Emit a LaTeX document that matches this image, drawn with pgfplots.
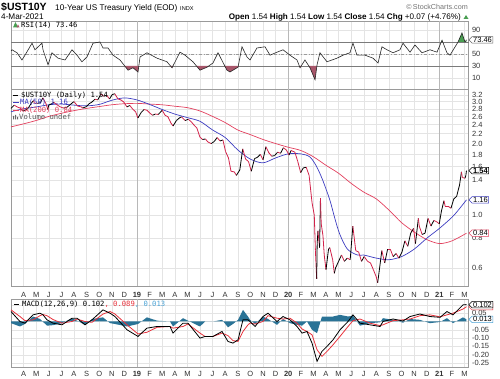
\documentclass[border=0pt]{standalone}
\usepackage{pgfplots}
\pgfplotsset{compat=1.18}
\usepackage{pgfplotstable}
\usetikzlibrary{shapes.symbols}
\usepackage{fontspec}
\setmainfont{Liberation Sans}
\newfontfamily\monofont{DejaVu Sans Mono}

\definecolor{pricered}{HTML}{D2224A}
\definecolor{ma50c}{HTML}{3C3CC0}
\definecolor{ma200c}{HTML}{E2405E}
\definecolor{gridc}{HTML}{E4E4E4}
\definecolor{yeargrid}{HTML}{B8B8B8}
\definecolor{axc}{HTML}{9A9A9A}
\definecolor{histc}{HTML}{2A7396}
\definecolor{sigred}{HTML}{E8323C}
\definecolor{lblue}{HTML}{4AA3D6}
\definecolor{rsired}{HTML}{A8566A}
\definecolor{rsigreen}{HTML}{4A9E52}
\definecolor{txtgray}{HTML}{333333}

\newcommand\tickfont{\fontsize{7.5}{8}\selectfont}
\newcommand\legfont{\monofont\fontsize{7.2}{8}\selectfont}

\pgfplotstableread{
m p c
-10.00 2.81 1
-9.74 2.90 0
-9.51 2.85 0
-9.28 2.82 0
-9.08 2.74 1
-8.84 2.77 1
-8.61 2.83 1
-8.38 2.96 1
-8.21 3.03 0
-8.15 2.96 0
-7.90 2.95 1
-7.67 2.97 1
-7.47 3.11 0
-7.21 2.93 0
-7.08 2.78 1
-7.00 2.90 1
-6.77 2.94 1
-6.61 2.98 0
-6.31 2.90 0
-6.08 2.85 0
-5.84 2.82 1
-5.61 2.83 1
-5.38 2.89 1
-5.15 2.96 1
-5.00 3.00 0
-4.70 2.87 0
-4.47 2.86 0
-4.31 2.82 1
-4.01 2.86 1
-3.80 2.94 1
-3.57 2.99 1
-3.34 3.07 0
-3.11 3.05 1
-2.87 3.23 0
-2.64 3.16 1
-2.41 3.19 0
-2.18 3.08 1
-1.97 3.21 1
-1.77 3.24 0
-1.51 3.08 0
-1.28 3.05 0
-1.05 2.99 0
-0.80 2.85 1
-0.57 2.89 0
-0.34 2.79 0
-0.11 2.72 0
0.07 2.56 1
0.33 2.70 1
0.56 2.78 0
0.79 2.76 0
1.00 2.69 0
1.23 2.63 1
1.46 2.66 0
1.69 2.65 1
2.00 2.76 0
2.23 2.63 0
2.46 2.59 0
2.69 2.44 0
2.86 2.37 1
3.13 2.50 1
3.36 2.56 1
3.53 2.59 0
3.82 2.50 1
4.07 2.53 0
4.30 2.47 0
4.53 2.39 0
4.76 2.32 0
4.99 2.13 0
5.20 2.08 1
5.43 2.09 0
5.63 2.03 0
5.89 2.00 1
6.13 2.04 1
6.36 2.12 0
6.59 2.05 1
6.82 2.07 0
7.03 1.85 0
7.26 1.74 0
7.46 1.53 0
7.72 1.52 0
7.89 1.47 1
8.16 1.55 1
8.39 1.90 0
8.62 1.72 0
8.85 1.68 0
9.07 1.53 1
9.33 1.73 1
9.56 1.75 1
9.79 1.80 0
10.00 1.71 1
10.23 1.94 0
10.46 1.83 0
10.69 1.77 1
10.92 1.78 1
11.16 1.84 0
11.39 1.82 1
11.62 1.92 0
11.85 1.88 0
12.07 1.79 1
12.23 1.87 0
12.53 1.84 0
12.76 1.68 0
12.99 1.51 1
13.20 1.58 1
13.43 1.59 0
13.66 1.47 0
13.89 1.13 0
14.07 1.00 0
14.16 0.71 0
14.26 0.54 1
14.30 0.76 1
14.36 0.86 0
14.49 0.73 1
14.56 1.18 0
14.62 0.92 0
14.76 0.82 0
14.86 0.68 0
15.00 0.59 1
15.20 0.72 1
15.30 0.73 0
15.53 0.65 0
15.66 0.57 1
15.76 0.60 1
16.00 0.64 1
16.23 0.68 0
16.46 0.64 1
16.69 0.66 0
16.92 0.65 1
17.13 0.90 0
17.36 0.71 0
17.59 0.70 0
17.82 0.64 1
18.03 0.67 0
18.30 0.64 0
18.53 0.63 0
18.76 0.59 0
18.99 0.55 0
19.10 0.52 1
19.20 0.57 1
19.43 0.71 0
19.66 0.63 1
19.89 0.72 0
20.10 0.72 0
20.33 0.67 1
20.56 0.69 0
20.79 0.66 1
21.03 0.70 1
21.26 0.78 0
21.49 0.74 1
21.72 0.84 1
21.95 0.88 0
22.10 0.76 1
22.33 0.97 0
22.40 0.90 0
22.63 0.83 1
22.86 0.84 1
23.10 0.97 0
23.33 0.90 1
23.56 0.95 0
23.76 0.94 0
23.99 0.92 1
24.16 1.04 1
24.36 1.15 0
24.46 1.09 0
24.69 1.09 0
24.92 1.07 1
25.14 1.17 1
25.37 1.20 1
25.60 1.34 1
25.75 1.52 0
25.82 1.44 0
26.03 1.43 1
26.10 1.47 1
26.15 1.54 1
}\pricetab

\pgfplotstableread{
m v
-10 2.72
-9 2.80
-8 2.85
-7 2.91
-6 2.93
-5 2.90
-4 2.88
-3 2.92
-2 3.04
-1 3.11
0 3.05
1 2.92
2 2.78
3 2.66
4 2.57
5 2.48
6 2.28
7 2.12
8 1.88
9 1.72
10 1.66
11 1.74
12 1.81
13 1.81
13.7 1.76
14.2 1.62
14.7 1.42
15.3 1.16
15.7 0.97
16.1 0.83
16.7 0.72
17.5 0.68
18 0.68
19 0.66
20 0.65
21 0.67
22 0.72
23 0.80
24 0.88
25 0.98
25.5 1.05
26.15 1.16
}\mafifty

\pgfplotstableread{
m v
-10 2.35
-9 2.42
-8 2.50
-7 2.60
-6 2.68
-5 2.75
-4 2.81
-3 2.86
-2 2.91
-1 2.94
0 2.95
1 2.93
2 2.91
3 2.87
4 2.83
5 2.74
6 2.60
7 2.45
8 2.28
9 2.18
10 2.08
11 2.00
12 1.93
13 1.87
14 1.76
15 1.62
16 1.50
17 1.36
18 1.25
19 1.17
20 1.05
21 0.93
22 0.85
23 0.79
24 0.76
25 0.78
26.15 0.84
}\matwohundred

\pgfplotstableread{
m r
-10.00 55
-9.92 57
-9.52 52
-9.13 40
-8.89 48
-8.33 68
-8.10 57
-7.54 68
-7.46 57
-7.06 32
-6.75 52
-6.27 43
-5.71 40
-5.16 57
-4.76 48
-4.37 37
-3.97 45
-3.49 68
-2.94 70
-2.70 60
-2.30 60
-1.90 48
-1.35 40
-0.71 23
-0.32 27
0.08 20
0.24 45
0.79 52
1.59 43
2.38 37
2.78 27
3.41 53
3.81 48
4.44 37
5.00 23
5.56 28
6.03 35
6.43 52
7.14 23
7.38 20
8.02 28
8.33 62
8.73 45
8.97 40
9.52 60
10.16 62
10.56 48
11.11 53
11.59 57
12.14 48
12.70 40
12.94 27
13.33 40
13.73 27
14.13 7
14.29 32
14.52 52
15.08 37
15.87 43
16.35 48
16.90 52
17.14 68
17.46 48
18.10 48
18.73 43
19.13 35
19.44 62
19.84 57
20.32 52
20.87 57
21.11 68
21.67 53
22.06 65
22.62 52
23.25 57
23.81 53
24.21 73
24.60 52
24.84 48
25.48 70
25.79 85
26.03 70
26.15 73.46
}\rsitab

\pgfplotstableread{
m macd sig h
-10.00 0.060 0.070 -0.010
-9.29 0.000 0.030 -0.030
-8.89 -0.010 0.005 -0.015
-8.25 0.040 0.010 0.030
-7.70 0.050 0.035 0.015
-7.46 0.040 0.042 -0.002
-7.14 0.010 0.035 -0.025
-6.67 -0.010 0.012 -0.022
-5.95 -0.020 -0.010 -0.010
-5.16 0.020 0.000 0.020
-4.76 0.020 0.015 0.005
-4.13 -0.020 0.000 -0.020
-3.57 0.010 -0.005 0.015
-2.70 0.070 0.045 0.025
-2.14 0.050 0.060 -0.010
-1.75 0.030 0.045 -0.015
-0.79 -0.050 -0.020 -0.030
0.08 -0.090 -0.075 -0.015
0.79 -0.040 -0.065 0.025
1.59 -0.030 -0.035 0.005
2.62 -0.030 -0.030 0.000
2.86 -0.070 -0.040 -0.030
3.65 -0.010 -0.030 0.020
4.05 -0.010 -0.015 0.005
5.00 -0.100 -0.070 -0.030
5.40 -0.090 -0.090 0.000
6.03 -0.090 -0.090 0.000
6.75 -0.060 -0.070 0.010
7.22 -0.120 -0.085 -0.035
7.62 -0.130 -0.115 -0.015
8.02 -0.110 -0.120 0.010
8.41 0.010 -0.060 0.070
8.81 0.010 -0.020 0.030
8.97 0.000 -0.010 0.010
9.37 -0.030 -0.015 -0.015
10.00 0.030 0.000 0.030
10.40 0.050 0.035 0.015
11.11 0.000 0.020 -0.020
11.59 0.030 0.015 0.015
12.14 0.010 0.020 -0.010
12.70 -0.030 -0.010 -0.020
13.10 -0.070 -0.045 -0.025
13.49 -0.060 -0.060 0.000
13.89 -0.130 -0.080 -0.050
14.29 -0.240 -0.170 -0.070
14.68 -0.180 -0.210 0.030
15.08 -0.150 -0.180 0.030
15.56 -0.110 -0.140 0.030
16.11 -0.050 -0.090 0.040
16.75 0.000 -0.030 0.030
17.14 0.040 0.005 0.035
17.70 -0.010 0.015 -0.025
18.49 -0.020 -0.010 -0.010
19.29 -0.030 -0.025 -0.005
19.52 0.000 -0.020 0.020
20.32 0.015 0.005 0.010
21.11 0.003 0.010 -0.007
21.67 0.030 0.015 0.015
22.46 0.045 0.035 0.010
23.25 0.030 0.040 -0.010
24.05 0.025 0.028 -0.003
24.60 0.060 0.040 0.020
25.08 0.040 0.050 -0.010
25.87 0.100 0.075 0.025
26.15 0.102 0.089 0.013
}\macdtab

\tikzset{
  tag/.style={signal, signal to=west, draw=#1, fill=white, line width=0.5pt,
    inner xsep=1pt, inner ysep=0.6pt, font=\tickfont, text=black, anchor=west},
}

\pgfplotsset{
  panel/.style={
    scale only axis, width=457.5pt,
    xmin=-10, xmax=26.31,
    xtick={-9,...,26},
    extra x ticks={0,12,24},
    extra x tick labels={,,},
    extra x tick style={grid style={draw=yeargrid, line width=0.6pt}},
    grid=major,
    grid style={draw=gridc, line width=0.4pt},
    axis line style={draw=axc, line width=0.5pt},
    major tick length=0pt,
    yticklabel pos=right,
    tick label style={font=\tickfont, text=txtgray},
    yticklabel style={anchor=west},
    clip=false,
  },
  monthlabels/.style={
    xticklabels={A,M,J,J,A,S,O,N,D,\textbf{19},F,M,A,M,J,J,A,S,O,N,D,\textbf{20},F,M,A,M,J,J,A,S,O,N,D,\textbf{21},F,M},
  },
}

\begin{document}
\begin{tikzpicture}
\path[use as bounding box] (0pt,0pt) rectangle (500pt,379pt);

% header
\node[anchor=base west, inner sep=0] at (1pt,368.5pt) {\fontsize{10.5}{12}\selectfont\bfseries \$UST10Y};
\node[anchor=base west, inner sep=0] at (55pt,368.5pt) {\fontsize{8.2}{10}\selectfont 10-Year US Treasury Yield (EOD)};
\node[anchor=base west, inner sep=0] at (180pt,368.5pt) {\fontsize{5.6}{7}\selectfont INDX};
\node[anchor=base west, inner sep=0] at (1pt,359.5pt) {\fontsize{8.2}{10}\selectfont 4-Mar-2021};
\node[anchor=base east, inner sep=0, text=black!55] at (468pt,369.5pt) {\fontsize{7.2}{9}\selectfont \textcopyright\,StockCharts.com};
\node[anchor=base east, inner sep=0] at (461pt,359.5pt) {\fontsize{8.1}{10}\selectfont \textbf{Open} 1.54 \textbf{High} 1.54 \textbf{Low} 1.54 \textbf{Close} 1.54 \textbf{Chg} +0.07 (+4.76\%)};
\fill[rsigreen] (463.5pt,360pt) -- (468.5pt,360pt) -- (466pt,364pt) -- cycle;

% RSI panel
\begin{axis}[panel, at={(11pt,289.5pt)}, anchor=south west, height=68.5pt,
  ymin=-9.2, ymax=105, ytick={10,30,50,70,90}, yticklabels={10,30,50,,90}, xticklabels={}]
  \addplot[draw=axc!80!black, line width=0.6pt] coordinates {(-10,70) (26.31,70)};
  \addplot[draw=axc!80!black, line width=0.6pt] coordinates {(-10,30) (26.31,30)};
  \addplot[draw=axc, line width=0.5pt, dash dot] coordinates {(-10,50) (26.31,50)};
  % areas where RSI is below 30 / above 70 (crossings of the RSI line)
  \addplot[fill=rsired, draw=none] coordinates {(-0.974,30) (-0.71,23) (-0.32,27) (0.08,20) (0.144,30)};
  \addplot[fill=rsired, draw=none] coordinates {(2.66,30) (2.78,27) (2.853,30)};
  \addplot[fill=rsired, draw=none] coordinates {(4.72,30) (5.00,23) (5.56,28) (5.694,30)};
  \addplot[fill=rsired, draw=none] coordinates {(6.969,30) (7.14,23) (7.38,20) (8.02,28) (8.038,30)};
  \addplot[fill=rsired, draw=none] coordinates {(12.885,30) (12.94,27) (13.03,30)};
  \addplot[fill=rsired, draw=none] coordinates {(13.638,30) (13.73,27) (14.13,7) (14.277,30)};
  \addplot[fill=rsigreen, draw=none] coordinates {(24.15,70) (24.21,73) (24.266,70)};
  \addplot[fill=rsigreen, draw=none] coordinates {(25.48,70) (25.79,85) (26.03,70) (26.15,73.46) (26.15,70)};
  \addplot[draw=black!85, line width=0.6pt] table[x=m, y=r] {\rsitab};
  \node[tag=black!60] at (axis cs:26.31,73.46) {73.46};
\end{axis}
\node[anchor=base west, inner sep=0] at (21pt,351.5pt) {\legfont RSI(14) 73.46};
\fill[rsigreen] (13pt,351.5pt) -- (15.5pt,357pt) -- (18pt,351.5pt) -- cycle;
\fill[rsired] (16.5pt,351.5pt) -- (18pt,354.5pt) -- (19.5pt,351.5pt) -- cycle;

% Price panel
\begin{axis}[panel, monthlabels, at={(11pt,93pt)}, anchor=south west, height=196.5pt,
  ymode=log, ymin=0.504, ymax=3.374,
  ytick={0.6,0.8,1.0,1.2,1.4,1.6,1.8,2.0,2.2,2.4,2.6,2.8,3.0,3.2},
  yticklabels={0.6,0.8,1.0,,1.4,1.6,1.8,2.0,2.2,2.4,2.6,2.8,3.0,3.2},
  xticklabel style={yshift=-3pt}]
  \addplot[ma200c, line width=0.7pt, smooth] table[x=m, y=v] {\matwohundred};
  \addplot[ma50c, line width=0.7pt, smooth] table[x=m, y=v] {\mafifty};
  \addplot[mesh, shader=flat corner, point meta=explicit, point meta min=0, point meta max=1,
    colormap={pricecm}{color=(pricered) color=(black)}, line width=0.8pt]
    table[x=m, y=p, meta=c] {\pricetab};
  \node[tag=ma200c] at (axis cs:26.31,0.84) {0.84};
  \node[tag=ma50c] at (axis cs:26.31,1.16) {1.16};
  \node[tag=black] at (axis cs:26.31,1.54) {\textbf{1.54}};
\end{axis}
\draw[black, line width=0.8pt] (13pt,284pt) -- (18pt,284pt);
\node[anchor=base west, inner sep=0] at (21pt,281.5pt) {\legfont \$UST10Y (Daily) 1.54};
\draw[ma50c, line width=0.8pt] (13pt,277pt) -- (19pt,277pt);
\node[anchor=base west, inner sep=0, text=ma50c] at (20pt,274.5pt) {\legfont MA(50) 1.16};
\draw[ma200c, line width=0.8pt] (13pt,269pt) -- (19pt,269pt);
\node[anchor=base west, inner sep=0, text=ma200c] at (20pt,266.5pt) {\legfont MA(200) 0.84};
\fill[black!60] (13pt,259.5pt) rectangle (14pt,263pt) (15pt,259.5pt) rectangle (16pt,264pt) (17pt,259.5pt) rectangle (18pt,262pt);
\node[anchor=base west, inner sep=0, text=black!65] at (19pt,259.5pt) {\legfont Volume undef};

% MACD panel
\begin{axis}[panel, monthlabels, at={(11pt,11.5pt)}, anchor=south west, height=68.5pt,
  ymin=-0.277, ymax=0.1355,
  ytick={-0.25,-0.2,-0.15,-0.1,-0.05,0,0.05,0.1},
  yticklabels={-0.25,-0.20,-0.15,-0.10,-0.05,,0.05,}]
  \addplot[fill=histc, draw=none] table[x=m, y=h] {\macdtab} \closedcycle;
  \addplot[sigred, line width=0.8pt] table[x=m, y=sig] {\macdtab};
  \addplot[black, line width=0.8pt] table[x=m, y=macd] {\macdtab};
  \node[tag=lblue] at (axis cs:26.31,0.013) {0.013};
  \node[tag=sigred] at (axis cs:26.31,0.089) {\phantom{0.102}};
  \node[tag=black] at (axis cs:26.31,0.102) {0.102};
\end{axis}
\draw[black, line width=0.8pt] (14pt,75pt) -- (19pt,75pt);
\node[anchor=base west, inner sep=0] at (22pt,72.5pt) {\legfont MACD(12,26,9) 0.102\textcolor{sigred}{, 0.089}\textcolor{lblue}{, 0.013}};
\end{tikzpicture}
\end{document}
